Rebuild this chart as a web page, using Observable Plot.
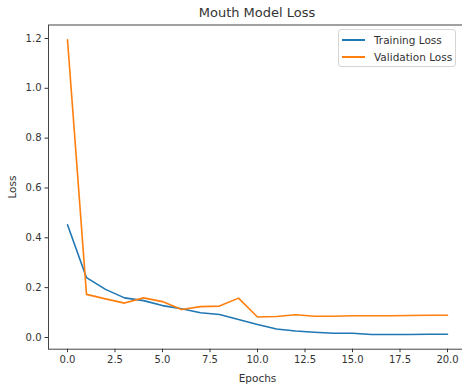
<!DOCTYPE html>
<html>
<head>
<meta charset="utf-8">
<script src="https://cdn.jsdelivr.net/npm/d3@7"></script>
<script src="https://cdn.jsdelivr.net/npm/@observablehq/plot@0.6"></script>
<style>
  html, body { margin: 0; padding: 0; background: #fff; overflow: hidden; width: 462px; height: 385px; }
  #wrap { position: relative; width: 466px; height: 385px; font-family: "DejaVu Sans", sans-serif; color: #333; }
  #title { height: 24px; line-height: 25px; padding-left: 48px; width: 418px; text-align: center; font-size: 13px; color: #333; }
  #legend { position: absolute; left: 338px; top: 29px; width: 116px; height: 36px; border: 1px solid #d5d5d5; border-radius: 3px; background: rgba(255,255,255,0.85); font-size: 10.5px; }
  .item { position: absolute; left: 3px; height: 14px; }
  .sw { position: absolute; left: 0; top: 6px; width: 23px; height: 2px; }
  .lbl { position: absolute; left: 32px; top: 0; white-space: nowrap; line-height: 14px; }
  svg { display: block; }
</style>
</head>
<body>
<div id="wrap">
  <div id="title">Mouth Model Loss</div>
  <div id="chart"></div>
  <div id="legend"></div>
</div>
<script>
const epochs = [0,1,2,3,4,5,6,7,8,9,10,11,12,13,14,15,16,17,18,19,20];
const trainLoss = [0.452,0.240,0.193,0.159,0.148,0.128,0.115,0.099,0.092,0.072,0.052,0.034,0.026,0.021,0.017,0.017,0.012,0.012,0.012,0.013,0.013];
const valLoss = [1.195,0.173,0.155,0.138,0.159,0.144,0.112,0.124,0.126,0.158,0.082,0.084,0.091,0.085,0.085,0.087,0.087,0.087,0.088,0.089,0.089];
const seriesNames = ["Training Loss", "Validation Loss"];
const seriesColors = ["#1f77b4", "#ff7f0e"];
const xTicks = [0, 2.5, 5, 7.5, 10, 12.5, 15, 17.5, 20];
const yTicks = [0, 0.2, 0.4, 0.6, 0.8, 1.0, 1.2];

const rows = [];
epochs.forEach((e, i) => {
  rows.push({epoch: e, loss: trainLoss[i], series: seriesNames[0]});
  rows.push({epoch: e, loss: valLoss[i], series: seriesNames[1]});
});

const plot = Plot.plot({
  width: 466,
  height: 361,
  marginTop: 0.5,
  marginBottom: 36.3,
  marginLeft: 48,
  marginRight: 0,
  style: {fontFamily: "DejaVu Sans, sans-serif", fontSize: "10px", color: "#333", background: "#fff"},
  x: {domain: [-1, 21], ticks: xTicks, tickFormat: d3.format(".1f"), tickSize: 3.5, tickPadding: 3.5, label: null},
  y: {domain: [-0.047, 1.254], ticks: yTicks, tickFormat: d3.format(".1f"), tickSize: 3.5, tickPadding: 3.5, label: null},
  color: {domain: seriesNames, range: seriesColors},
  marks: [
    Plot.line(rows, {x: "epoch", y: "loss", z: "series", stroke: "series", strokeWidth: 1.6}),
    Plot.frame({stroke: "#444", strokeWidth: 1}),
    Plot.text(["Epochs"], {frameAnchor: "bottom", dy: 29, lineAnchor: "middle", fontSize: 10.5, fill: "#333"}),
    Plot.text(["Loss"], {frameAnchor: "left", dx: -36, rotate: -90, textAnchor: "middle", lineAnchor: "middle", fontSize: 10.5, fill: "#333"})
  ]
});
document.getElementById("chart").appendChild(plot);

const legend = document.getElementById("legend");
seriesNames.forEach((name, i) => {
  const item = document.createElement("div");
  item.className = "item";
  item.style.top = (3 + i * 16.5) + "px";
  const sw = document.createElement("div");
  sw.className = "sw";
  sw.style.background = seriesColors[i];
  const lbl = document.createElement("div");
  lbl.className = "lbl";
  lbl.textContent = name;
  item.appendChild(sw);
  item.appendChild(lbl);
  legend.appendChild(item);
});
</script>
</body>
</html>
